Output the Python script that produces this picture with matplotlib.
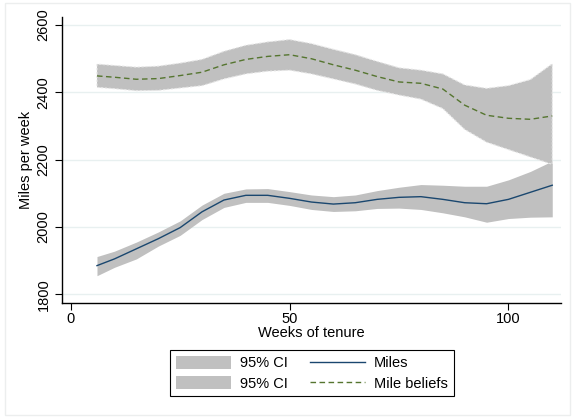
import matplotlib
matplotlib.use("Agg")
import matplotlib.pyplot as plt
from matplotlib.patches import Patch, Rectangle
from matplotlib.lines import Line2D

plt.rcParams['font.family'] = ['Liberation Sans', 'DejaVu Sans']

weeks = [6, 10, 15, 20, 25, 30, 35, 40, 45, 50, 55, 60, 65, 70, 75, 80, 85, 90, 95, 100, 105, 110]

miles = [1885, 1905, 1935, 1965, 1998, 2045, 2080, 2094, 2094, 2085, 2074, 2068, 2072, 2082,
         2088, 2090, 2082, 2072, 2069, 2082, 2103, 2124]
miles_hi = [1912, 1928, 1955, 1985, 2018, 2065, 2100, 2113, 2114, 2105, 2095, 2090, 2095, 2108,
            2118, 2126, 2124, 2121, 2121, 2140, 2165, 2196]
miles_lo = [1855, 1880, 1905, 1943, 1975, 2022, 2058, 2073, 2073, 2064, 2052, 2046, 2048, 2055,
            2056, 2052, 2042, 2030, 2014, 2025, 2029, 2030]

beliefs = [2449, 2445, 2439, 2441, 2450, 2460, 2482, 2498, 2507, 2512, 2500, 2482, 2466, 2447,
           2431, 2427, 2410, 2362, 2332, 2323, 2320, 2330]
beliefs_hi = [2484, 2480, 2475, 2478, 2487, 2498, 2522, 2540, 2550, 2557, 2545, 2528, 2512, 2492,
              2473, 2466, 2455, 2422, 2412, 2420, 2438, 2485]
beliefs_lo = [2415, 2411, 2405, 2406, 2413, 2420, 2440, 2455, 2463, 2466, 2455, 2440, 2425, 2406,
              2392, 2380, 2352, 2290, 2252, 2230, 2208, 2186]

yticks = [1800, 2000, 2200, 2400, 2600]
xticks = [0, 50, 100]

band_color = '#c0c0c0'
miles_color = '#1a476f'
beliefs_color = '#55752f'

fig = plt.figure(figsize=(5.72, 4.17), dpi=100)
fig.patches.append(Rectangle((5 / 572, 2 / 417), 565 / 572, 412 / 417, transform=fig.transFigure,
                             fill=False, edgecolor='#eceeee', linewidth=1))
ax = fig.add_axes([61.7 / 572, 1 - 303.3 / 417, (561 - 61.7) / 572, (303.3 - 16.7) / 417])

ax.fill_between(weeks, miles_lo, miles_hi, color=band_color, linewidth=0, zorder=2)
ax.fill_between(weeks, beliefs_lo, beliefs_hi, facecolor=band_color, edgecolor='#e6e6e6',
                linestyle=(0, (2, 1.5)), linewidth=0.8, zorder=2)
ax.plot(weeks, miles, color=miles_color, linewidth=1.0, zorder=3)
ax.plot(weeks, beliefs, color=beliefs_color, linewidth=1.0, linestyle=(0, (4, 2.5)), zorder=3)

ax.set_xlim(-2.06, 112)
ax.set_ylim(1773, 2625)
ax.set_yticks(yticks)
ax.set_yticklabels([str(v) for v in yticks], rotation=90, va='center', fontsize=10.5)
ax.set_xticks(xticks)
ax.set_xticklabels([str(v) for v in xticks], fontsize=10.5)
ax.tick_params(axis='y', length=5, width=0.8, color='black', pad=3)
ax.tick_params(axis='x', length=5, width=0.8, color='black', pad=1.5)
for v in yticks:
    ax.axhline(v, color='#e8f0f0', linewidth=1, zorder=1)
for s in ['top', 'right']:
    ax.spines[s].set_visible(False)
for s in ['left', 'bottom']:
    ax.spines[s].set_linewidth(1.0)
ax.set_ylabel('Miles per week', fontsize=10.5, labelpad=2.5)
ax.set_xlabel('Weeks of tenure', fontsize=10.5, labelpad=0)

handles = [Patch(facecolor=band_color, edgecolor='none'),
           Patch(facecolor=band_color, edgecolor='none'),
           Line2D([], [], color=miles_color, linewidth=1.0),
           Line2D([], [], color=beliefs_color, linewidth=1.0, linestyle=(0, (4, 2.5)))]
labels = ['95% CI', '95% CI', 'Miles', 'Mile beliefs']
leg = fig.legend(handles, labels, ncol=2, loc='center', bbox_to_anchor=(0.545, 0.105),
                 bbox_transform=fig.transFigure, fontsize=10.5, frameon=True, fancybox=False,
                 edgecolor='black', framealpha=1, handlelength=3.8, handleheight=1.0,
                 handletextpad=0.6, columnspacing=1.5, labelspacing=0.4, borderpad=0.4)
leg.get_frame().set_linewidth(0.8)

fig.savefig('out.png', dpi=100, facecolor='white')
